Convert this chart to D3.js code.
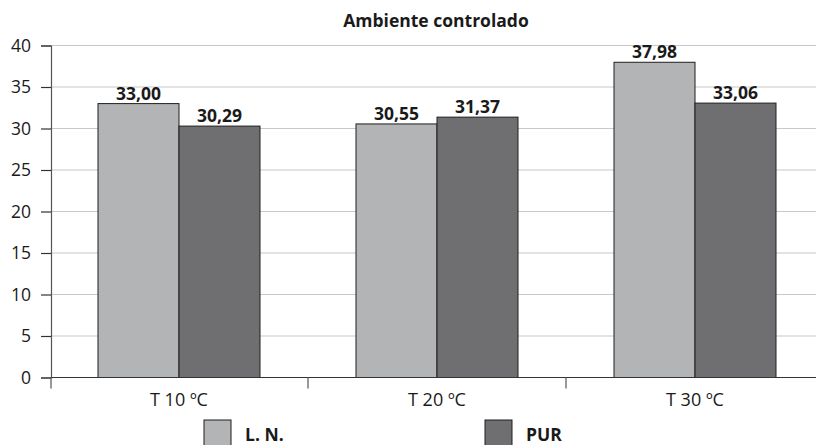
<!DOCTYPE html>
<html><head><meta charset="utf-8">
<script src="https://cdn.jsdelivr.net/npm/d3@7"></script>
<style>body{margin:0;background:#fff}svg{display:block}text{font-family:"Open Sans",sans-serif}</style>
</head><body><svg id="c" width="816" height="445"></svg>
<script>
const title = "Ambiente controlado";
const categories = ["T 10 ºC", "T 20 ºC", "T 30 ºC"];
const series = ["L. N.", "PUR"];
const lnValues = [33.00, 30.55, 37.98];
const purValues = [30.29, 31.37, 33.06];
const yTicks = [0, 5, 10, 15, 20, 25, 30, 35, 40];
const colors = ["#b3b4b6", "#6f6f71"];

const svg = d3.select("#c");
const y = d3.scaleLinear().domain([0, 40]).range([377.5, 45.5]);
const x = d3.scaleBand().domain(categories).range([50, 824]).padding(0);
const x1 = d3.scaleBand().domain(series).range([-81, 81]);
const valuesBySeries = [lnValues, purValues];

// gridlines
svg.append("g").selectAll("line").data(yTicks.filter(d => d > 0)).join("line")
  .attr("x1", 51).attr("x2", 816).attr("y1", d => y(d)).attr("y2", d => y(d))
  .attr("stroke", "#c8c8c8").attr("stroke-width", 1.2);

// y axis
const yAxis = svg.append("g").attr("transform", "translate(51,0)")
  .call(d3.axisLeft(y).tickValues(yTicks).tickSize(10).tickPadding(10).tickFormat(d3.format("d")));
yAxis.select(".domain").attr("stroke", "#555").attr("stroke-width", 1.2);
yAxis.selectAll(".tick line").attr("stroke", "#333").attr("stroke-width", 1.2);
yAxis.selectAll("text").attr("font-size", 17.5).attr("fill", "#1a1a1a").attr("font-family", "Open Sans");

// bars
const data = [];
categories.forEach((c, i) => series.forEach((s, j) => data.push({c, s, j, v: valuesBySeries[j][i]})));
const cx = c => x(c) + x.bandwidth() / 2;
svg.append("g").selectAll("rect").data(data).join("rect")
  .attr("x", d => cx(d.c) + x1(d.s))
  .attr("width", x1.bandwidth())
  .attr("y", d => y(d.v))
  .attr("height", d => y(0) - y(d.v))
  .attr("fill", d => colors[d.j])
  .attr("stroke", "#1e1e1e").attr("stroke-width", 1);

svg.append("g").selectAll("text").data(data).join("text")
  .attr("x", d => cx(d.c) + x1(d.s) + x1.bandwidth() / 2)
  .attr("y", d => y(d.v) - 4)
  .attr("text-anchor", "middle").attr("font-size", 17.5).attr("font-weight", "bold").attr("fill", "#1a1a1a")
  .text(d => d3.format(".2f")(d.v).replace(".", ","));

// x axis
svg.append("line").attr("x1", 51).attr("x2", 816).attr("y1", y(0)).attr("y2", y(0))
  .attr("stroke", "#333").attr("stroke-width", 1.2);
const xTickPos = [x.range()[0] + 1].concat(categories.slice(1).map(c => x(c)));
svg.append("g").selectAll("line").data(xTickPos).join("line")
  .attr("x1", d => d).attr("x2", d => d).attr("y1", y(0)).attr("y2", y(0) + 11)
  .attr("stroke", "#555").attr("stroke-width", 1.2);
svg.append("g").selectAll("text").data(categories).join("text")
  .attr("x", d => cx(d)).attr("y", 406)
  .attr("text-anchor", "middle").attr("font-size", 18).attr("fill", "#1a1a1a")
  .text(d => d);

// title
svg.append("text").attr("x", 436).attr("y", 27).attr("text-anchor", "middle")
  .attr("font-size", 17.5).attr("font-weight", "bold").attr("fill", "#1a1a1a").text(title);

// legend
const legX = [204, 485];
const leg = svg.append("g").selectAll("g").data(series).join("g")
  .attr("transform", (d, i) => `translate(${legX[i]},420)`);
leg.append("rect").attr("width", 27).attr("height", 27)
  .attr("fill", (d, i) => colors[i]).attr("stroke", "#1e1e1e").attr("stroke-width", 1);
leg.append("text").attr("x", 41).attr("y", 20.5).attr("font-size", 17.5).attr("font-weight", "bold")
  .attr("fill", "#1a1a1a").text(d => d);
</script></body></html>
